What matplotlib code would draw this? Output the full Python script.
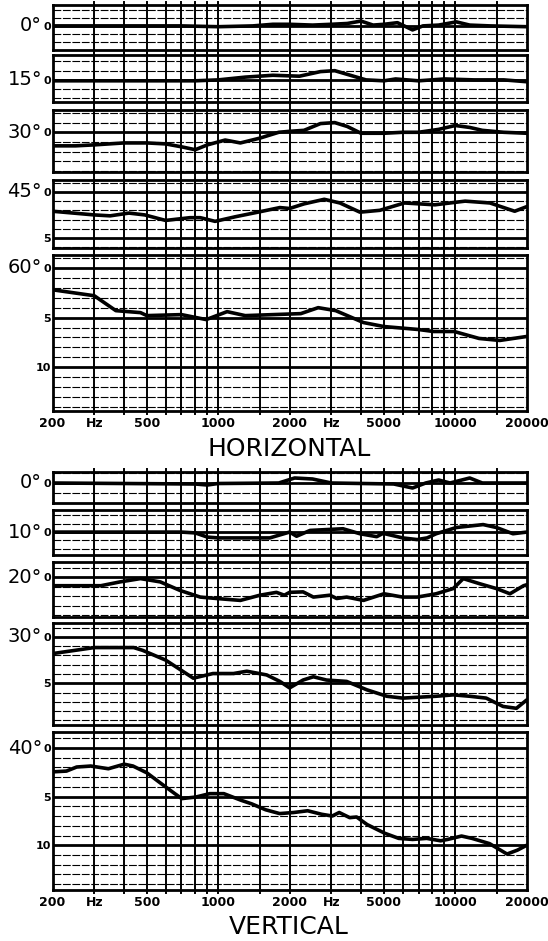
import matplotlib
matplotlib.use("Agg")
import matplotlib.pyplot as plt

# Frequencies (Hz) and level relative to on-axis (dB, positive = down)
h00_hz = [200, 700, 1000, 1400, 1700, 2000, 2500, 3000, 3500, 4000, 4500, 5000, 5700, 6600, 7300, 8500, 10100, 11500, 14000, 20000]
h00_db = [0, 0, 0.1, 0, -0.2, -0.2, -0.1, -0.2, -0.3, -0.6, -0.1, -0.2, -0.4, 0.5, 0.0, -0.1, -0.5, -0.1, 0.0, 0.1]

h15_hz = [200, 500, 800, 1000, 1300, 1700, 2200, 2700, 3100, 3500, 4200, 5000, 5600, 7000, 9000, 12000, 16000, 20000]
h15_db = [0.1, 0.1, 0.1, 0.0, -0.3, -0.5, -0.4, -0.9, -1.0, -0.6, 0.0, 0.1, -0.1, 0.1, -0.1, 0.0, 0.0, 0.2]

h30_hz = [200, 250, 300, 400, 500, 600, 700, 800, 900, 1070, 1240, 1500, 1800, 2000, 2300, 2700, 3100, 3500, 4000, 5000, 6000, 7000, 8500, 10000, 11500, 13000, 16000, 20000]
h30_db = [1.4, 1.4, 1.3, 1.1, 1.1, 1.2, 1.5, 1.8, 1.3, 0.8, 1.1, 0.6, 0.0, -0.1, -0.2, -0.9, -1.0, -0.6, 0.1, 0.1, 0.0, 0.0, -0.3, -0.7, -0.5, -0.2, 0.0, 0.1]

h45_hz = [200, 300, 350, 420, 490, 600, 760, 840, 970, 1180, 1470, 1820, 2000, 2300, 2800, 3260, 3960, 4800, 6100, 8200, 11000, 14000, 17800, 20000]
h45_db = [2.1, 2.5, 2.6, 2.3, 2.5, 3.1, 2.8, 2.8, 3.2, 2.7, 2.2, 1.7, 1.8, 1.3, 0.8, 1.2, 2.2, 2.0, 1.2, 1.4, 1.0, 1.2, 2.1, 1.6]

h60_hz = [200, 300, 370, 470, 500, 700, 890, 1090, 1300, 1700, 2230, 2640, 3130, 4100, 5000, 7000, 8100, 9900, 12600, 15400, 20000]
h60_db = [2.2, 2.8, 4.3, 4.5, 4.8, 4.7, 5.2, 4.4, 4.8, 4.7, 4.6, 4.0, 4.3, 5.5, 5.9, 6.2, 6.4, 6.4, 7.1, 7.3, 6.9]

v00_hz = [200, 800, 900, 1000, 1800, 2100, 2500, 3000, 5500, 6600, 7500, 8500, 9500, 11500, 13000, 20000]
v00_db = [0, 0.1, 0.2, 0.05, 0, -0.5, -0.4, 0, 0.1, 0.5, 0, -0.3, 0, -0.5, 0, 0]

v10_hz = [200, 500, 700, 800, 900, 1000, 1300, 1650, 2000, 2140, 2440, 3360, 3960, 4660, 4960, 6000, 6900, 7600, 8300, 10100, 13100, 14900, 17500, 20000]
v10_db = [0, 0, 0, 0.1, 0.6, 0.7, 0.7, 0.7, 0.0, 0.5, -0.2, -0.4, 0.2, 0.55, 0.15, 0.7, 0.9, 0.7, 0.2, -0.55, -0.9, -0.55, 0.2, 0.0]

v20_hz = [200, 320, 385, 470, 570, 690, 840, 985, 1240, 1500, 1760, 1900, 2000, 2280, 2520, 2960, 3160, 3480, 4100, 5000, 6000, 6900, 8300, 9800, 10800, 12700, 14900, 17000, 19400, 20000]
v20_db = [0.9, 0.9, 0.5, 0.15, 0.5, 1.4, 2.1, 2.25, 2.45, 1.9, 1.6, 1.9, 1.6, 1.55, 2.1, 1.9, 2.25, 2.1, 2.45, 1.75, 2.1, 2.1, 1.75, 1.2, 0.15, 0.7, 1.2, 1.75, 0.9, 0.8]

v30_hz = [200, 300, 440, 480, 600, 785, 950, 1160, 1320, 1600, 1820, 2000, 2280, 2520, 2860, 3480, 4230, 5140, 6000, 8300, 9800, 11500, 13500, 15900, 18100, 20000]
v30_db = [1.8, 1.15, 1.15, 1.45, 2.5, 4.45, 3.95, 3.95, 3.7, 4.1, 4.8, 5.5, 4.65, 4.3, 4.65, 4.8, 5.7, 6.4, 6.6, 6.4, 6.25, 6.4, 6.6, 7.5, 7.7, 6.8]

v40_hz = [200, 229, 253, 290, 344, 401, 437, 500, 572, 656, 702, 804, 921, 1056, 1251, 1384, 1585, 1816, 2081, 2383, 2730, 3025, 3238, 3586, 3833, 4246, 5035, 5768, 6606, 7570, 8671, 9280, 10620, 11750, 13940, 16520, 18280, 20000]
v40_db = [2.45, 2.37, 1.95, 1.85, 2.13, 1.66, 1.85, 2.55, 3.62, 4.69, 5.2, 5.04, 4.69, 4.69, 5.38, 5.74, 6.35, 6.74, 6.63, 6.45, 6.81, 6.99, 6.63, 7.16, 7.09, 7.87, 8.76, 9.29, 9.4, 9.29, 9.54, 9.4, 9.05, 9.29, 9.83, 10.9, 10.5, 10.0]

angles_h = ["0°", "15°", "30°", "45°", "60°"]
angles_v = ["0°", "10°", "20°", "30°", "40°"]

grid_hz = [300, 400, 500, 600, 700, 800, 900, 1000, 1500, 2000, 3000, 4000, 5000, 6000, 7000, 8000, 9000, 10000, 15000]
freq_ticks = [200, 300, 500, 1000, 2000, 3000, 5000, 10000, 20000]
freq_labels = ["200", "Hz", "500", "1000", "2000", "Hz", "5000", "10000", "20000"]

# Layout in pixels: (top, bottom) of each strip and its dB span
W, H = 548, 941
X_LEFT, X_RIGHT = 52.5, 526.7
STUB = 3.0  # how far the frequency lines poke out of a strip, px
boxes_h = [(5, 50, -2.6, 3.0), (55, 102, -2.7, 2.4), (110, 172, -2.3, 4.1),
	(180, 248, -1.3, 6.1), (255, 411, -1.3, 14.4)]
boxes_v = [(472, 503, -1.1, 2.0), (510, 555, -2.65, 2.75), (562, 617, -1.6, 4.2),
	(623, 725, -1.5, 9.5), (732, 890, -1.65, 14.6)]


def add_strip(fig, box, hz, db, angle, last):
	"""
	Draw one polar-angle strip of recorder paper with its response curve.
	"""
	top, bottom, db_top, db_bottom = box
	ax = fig.add_axes([X_LEFT / W, 1 - bottom / H, (X_RIGHT - X_LEFT) / W, (bottom - top) / H])
	ax.set_xscale("log")
	ax.set_xlim(200, 20000)
	ax.set_ylim(db_bottom, db_top)

	ext = STUB / (bottom - top)
	for f in grid_hz:
		ax.plot([f, f], [-ext, 1 + ext], transform=ax.get_xaxis_transform(),
			color="black", lw=1.4, zorder=1, clip_on=False)
	for level in range(int(db_top), int(db_bottom) + 1):
		if level <= db_top or level >= db_bottom:
			continue
		if level % 5 == 0:
			ax.axhline(level, color="black", lw=2.0, zorder=1)
		else:
			ax.axhline(level, color="black", lw=0.8, linestyle=(0, (7, 1.5)), zorder=1)

	ax.plot(hz, db, color="black", lw=2.6, solid_capstyle="round", zorder=3)

	for spine in ax.spines.values():
		spine.set_linewidth(2.0)

	marks = [m for m in (0, 5, 10) if db_top < m < db_bottom]
	ax.set_yticks(marks, [str(m) for m in marks])
	ax.tick_params(axis="y", length=0, pad=1.2, labelsize=8)
	for label in ax.get_yticklabels():
		label.set_fontweight("bold")

	ax.text(-0.022, 0, angle, transform=ax.get_yaxis_transform(), ha="right", va="center",
		fontsize=14)

	ax.minorticks_off()
	if last:
		ax.set_xticks(freq_ticks, freq_labels)
		ax.tick_params(axis="x", length=0, pad=4, labelsize=9)
		for label in ax.get_xticklabels():
			label.set_fontweight("bold")
	else:
		ax.set_xticks([])
	return ax


fig = plt.figure(figsize=(W / 100, H / 100), dpi=100)
plt.rcParams["font.family"] = ["DejaVu Sans"]

curves_h = [(h00_hz, h00_db), (h15_hz, h15_db), (h30_hz, h30_db), (h45_hz, h45_db), (h60_hz, h60_db)]
curves_v = [(v00_hz, v00_db), (v10_hz, v10_db), (v20_hz, v20_db), (v30_hz, v30_db), (v40_hz, v40_db)]

for i, (box, (hz, db), angle) in enumerate(zip(boxes_h, curves_h, angles_h)):
	add_strip(fig, box, hz, db, angle, i == len(boxes_h) - 1)
for i, (box, (hz, db), angle) in enumerate(zip(boxes_v, curves_v, angles_v)):
	add_strip(fig, box, hz, db, angle, i == len(boxes_v) - 1)

fig.text(289 / W, 1 - 449 / H, "HORIZONTAL", ha="center", va="center", fontsize=18)
fig.text(289 / W, 1 - 927 / H, "VERTICAL", ha="center", va="center", fontsize=18)

fig.savefig("out.png", dpi=100)
